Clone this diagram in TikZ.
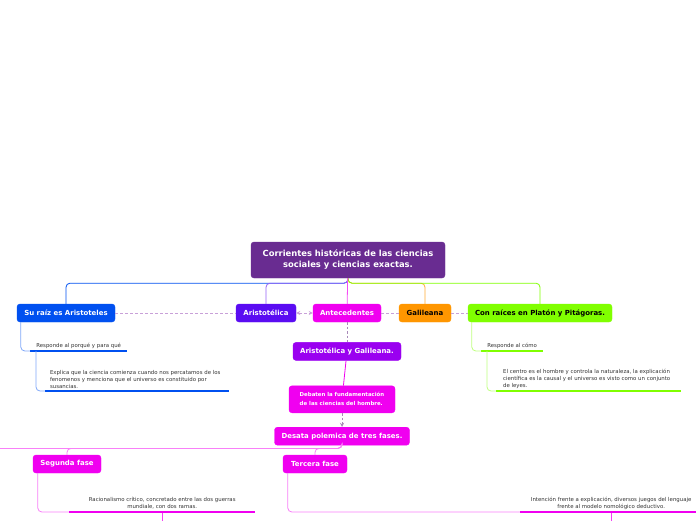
\documentclass[tikz,border=0pt]{standalone}
\usepackage{fontspec}
\setmainfont{DejaVu Sans}
\usepackage{tikz}
\usetikzlibrary{positioning}

\definecolor{cRaiz}{HTML}{692C91}
\definecolor{cAzul}{HTML}{0050F0}
\definecolor{cAris}{HTML}{5A0CF2}
\definecolor{cMag}{HTML}{F000F0}
\definecolor{cViol}{HTML}{9A00F0}
\definecolor{cNar}{HTML}{FF9600}
\definecolor{cVer}{HTML}{80FF00}
\definecolor{cLila}{HTML}{C8A0D8}
\definecolor{cLila2}{HTML}{A888B8}
\definecolor{cTexto}{HTML}{333333}

\tikzset{
  topic/.style={draw=#1, fill=#1, rounded corners=3pt, text=white,
    font=\bfseries\fontsize{6.95}{8}\selectfont, minimum height=18pt, inner xsep=3pt},
  note/.style={font=\fontsize{5.4}{6.8}\selectfont, text=cTexto, align=left,
    inner xsep=0pt, inner ysep=2.5pt},
  branch/.style={draw=#1, rounded corners=4pt, line width=0.8pt},
  sub/.style={draw=#1!50!white, rounded corners=4pt, line width=0.8pt},
  uline/.style={draw=#1, line width=2.5pt},
  rel/.style={draw=cLila, line width=0.8pt, dash pattern=on 3pt off 2pt, >=stealth},
  rel2/.style={draw=cLila2, line width=0.9pt, dash pattern=on 2.5pt off 2pt, >=stealth}
}

\begin{document}
\begin{tikzpicture}[x=1pt,y=-1pt]
	\useasboundingbox (0,0) rectangle (696,520);

	\node[topic=cRaiz, minimum width=194pt, minimum height=36pt, align=center,
	  font=\bfseries\fontsize{8.4}{11}\selectfont] (root) at (348,260)
	  {Corrientes históricas de las ciencias\\ sociales y ciencias exactas.};

	\node[topic=cAzul, minimum width=98pt] (raiz) at (66,313) {Su raíz es Aristoteles};
	\node[topic=cAris, minimum width=60pt] (aris) at (266,313) {Aristotélica};
	\node[topic=cMag, minimum width=68pt] (antec) at (347,313) {Antecedentes};
	\node[topic=cNar, text=black, minimum width=52pt] (gali) at (425,313) {Galileana};
	\node[topic=cVer, text=black, minimum width=144pt] (plat) at (540,313) {Con raíces en Platón y Pitágoras.};

	% ramas de la idea central
	\draw[branch=cAzul] (root.south) -- ++(0,5) -| (raiz.north);
	\draw[branch=cAris!65!white] (root.south) -- ++(0,5) -| (aris.north);
	\draw[branch=cNar!80!white] (root.south) -- ++(0,5) -| (gali.north);
	\draw[branch=cVer] (root.south) -- ++(0,5) -| (plat.north);
	\draw[branch=cMag!70!white] (root) -- (antec);

	\draw[rel] (raiz) -- (aris);
	\draw[rel, <->] (aris) -- (antec);
	\draw[rel] (antec) -- (gali);
	\draw[rel] (gali) -- (plat);

	% notas de la izquierda
	\node[note, minimum width=97pt, anchor=south west] (porque) at (30,351) {Responde al porqué y para qué};
	\node[note, minimum width=180pt, anchor=south west] (explica) at (45,391)
	  {Explica que la ciencia comienza cuando nos percatamos de los\\
	   fenomenos y menciona que el universo es constituido por\\
	   susancias.};
	\draw[uline=cAzul] (porque.south west) -- (porque.south east);
	\draw[uline=cAzul] (explica.south west) -- ([xshift=4pt]explica.south east);
	\draw[sub=cAzul] ([xshift=4pt]raiz.south west) |- (porque.south west);
	\draw[sub=cAzul] ([xshift=6pt]porque.south west) |- (explica.south west);

	% notas de la derecha
	\node[note, minimum width=62pt, anchor=south west] (como) at (481,351) {Responde al cómo};
	\node[note, minimum width=181pt, anchor=south west] (centro) at (496,391)
	  {El centro es el hombre y controla la naturaleza, la explicación\\
	   científica es la causal y el universo es visto como un conjunto\\
	   de leyes.};
	\draw[uline=cVer] (como.south west) -- (como.south east);
	\draw[uline=cVer] (centro.south west) -- ([xshift=4pt]centro.south east);
	\draw[sub=cVer] ([xshift=4pt]plat.south west) |- (como.south west);
	\draw[sub=cVer] ([xshift=6pt]como.south west) |- (centro.south west);

	% antecedentes
	\node[topic=cViol, minimum width=108pt, below=20pt of antec] (ayg) {Aristotélica y Galileana.};
	\node[topic=cMag, minimum width=106pt, minimum height=27pt, align=left,
	  font=\bfseries\fontsize{5.4}{9}\selectfont, below=25pt of ayg, xshift=-5pt] (debaten)
	  {Debaten la fundamentación\\de las ciencias del hombre.};
	\node[topic=cMag, minimum width=135pt, below=14pt of debaten] (desata) {Desata polemica de tres fases.};

	\draw[rel2] (antec) -- (ayg);
	\draw[branch=cMag] (ayg) -- (debaten);
	\draw[rel2, ->] (debaten) -- (desata);

	% fases
	\node[topic=cMag, minimum width=68pt] (segunda) at (67,464) {Segunda fase};
	\node[topic=cMag, minimum width=64pt] (tercera) at (315,464) {Tercera fase};
	\coordinate (origen) at (0,0);
	\coordinate (cruce) at ([yshift=-3pt]desata.south);
	\coordinate (primera) at (cruce -| origen);
	\coordinate (abajo) at (0,530);

	\draw[sub=cMag] (desata.south) -- (cruce) -- (primera);
	\draw[sub=cMag] (desata.south) -- (cruce) -| (segunda.north);
	\draw[sub=cMag] (desata.south) -- (cruce) -| (tercera.north);

	\node[note, align=center, minimum width=186pt, anchor=south west] (racional) at (69,512)
	  {Racionalismo crítico, concretado entre las dos guerras\\ mundiale, con dos ramas.};
	\node[note, align=center, minimum width=182pt, anchor=south west] (intencion) at (520,512)
	  {Intención frente a explicación, diversos juegos del lenguaje\\ frente al modelo nomológico deductivo.};
	\draw[sub=cMag] ([xshift=5pt]segunda.south west) |- (racional.south west);
	\draw[sub=cMag] ([xshift=5pt]tercera.south west) |- (intencion.south west);
	\draw[branch=cMag!75!white] (racional.south) -- (racional.south |- abajo);
	\draw[branch=cMag!75!white] (intencion.south) -- (intencion.south |- abajo);
	\draw[uline=cMag] (racional.south west) -- (racional.south east);
	\draw[uline=cMag] (intencion.south west) -- (intencion.south east);
\end{tikzpicture}
\end{document}
